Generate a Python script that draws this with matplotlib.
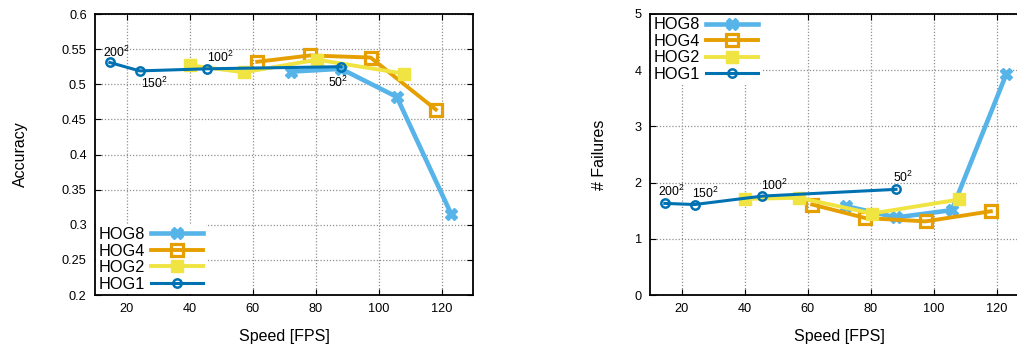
import numpy as np
import matplotlib
matplotlib.use("Agg")
import matplotlib.pyplot as plt

plt.rcParams['font.family'] = ['Liberation Sans', 'DejaVu Sans']
plt.rcParams['mathtext.fontset'] = 'custom'
plt.rcParams['mathtext.rm'] = 'Liberation Sans'
plt.rcParams['mathtext.it'] = 'Liberation Sans'

# speed [FPS] for each descriptor setting
fps_hog1 = [14.7, 24.2, 45.7, 88.1]
fps_hog2 = [40.0, 57.3, 80.5, 108.2]
fps_hog4 = [61.5, 78.3, 97.5, 118.2]
fps_hog8 = [72.3, 88.1, 105.8, 123.1]

acc_hog1 = [0.531, 0.519, 0.522, 0.525]
acc_hog2 = [0.527, 0.517, 0.535, 0.515]
acc_hog4 = [0.532, 0.541, 0.538, 0.464]
acc_hog8 = [0.518, 0.522, 0.482, 0.315]

fail_hog1 = [1.63, 1.61, 1.76, 1.88]
fail_hog2 = [1.71, 1.73, 1.45, 1.70]
fail_hog4 = [1.61, 1.37, 1.31, 1.49]
fail_hog8 = [1.58, 1.38, 1.51, 3.93]

sizes = ['200$^2$', '150$^2$', '100$^2$', '50$^2$']

c8, c4, c2, c1 = '#56B4E9', '#E69F00', '#F0E442', '#0072B2'

fig = plt.figure(figsize=(10.17, 3.49), dpi=100)
ax1 = fig.add_axes([95/1017, 1-295/349, 378/1017, 281/349])
ax2 = fig.add_axes([650/1017, 1-295/349, 378/1017, 281/349])


def draw(ax, y8, y4, y2, y1):
    ax.plot(fps_hog8, y8, color=c8, lw=3.3, marker='X', ms=9, mec=c8, label='HOG8', zorder=3)
    ax.plot(fps_hog4, y4, color=c4, lw=2.8, marker='s', ms=8.5, mfc='none', mew=2.3, label='HOG4', zorder=4)
    ax.plot(fps_hog2, y2, color=c2, lw=2.8, marker='s', ms=9, label='HOG2', zorder=5)
    ax.plot(fps_hog1, y1, color=c1, lw=2.2, marker='o', ms=6, mfc='none', mew=1.8, label='HOG1', zorder=6)
    ax.set_xlim(10, 130)
    ax.set_xticks([20, 40, 60, 80, 100, 120])
    ax.grid(True, ls=(0, (1, 1.5)), color='#909090', lw=0.9)
    ax.tick_params(direction='in', top=True, right=True, length=4, labelsize=9.2, pad=6)
    for s in ax.spines.values():
        s.set_linewidth(1.3)
    ax.set_xlabel('Speed [FPS]', fontsize=11.5, labelpad=10)


draw(ax1, acc_hog8, acc_hog4, acc_hog2, acc_hog1)
ax1.set_ylim(0.2, 0.6)
ax1.set_yticks(np.arange(0.2, 0.601, 0.05))
ax1.set_yticklabels(['0.2', '0.25', '0.3', '0.35', '0.4', '0.45', '0.5', '0.55', '0.6'])
ax1.set_ylabel('Accuracy', fontsize=11.5, labelpad=24)

draw(ax2, fail_hog8, fail_hog4, fail_hog2, fail_hog1)
ax2.set_ylim(0, 5)
ax2.set_yticks([0, 1, 2, 3, 4, 5])
ax2.set_ylabel('# Failures', fontsize=11.5, labelpad=20)

# frame sizes next to the HOG1 points
off1 = [(7, 10), (15, -12), (13, 11), (-3, -16)]
off2 = [(7, 12), (11, 11), (12, 11), (7, 12)]
for x, y, t, o in zip(fps_hog1, acc_hog1, sizes, off1):
    ax1.annotate(t, (x, y), xytext=o, textcoords='offset pixels', fontsize=8.8,
                 ha='center', va='center', zorder=7)
for x, y, t, o in zip(fps_hog1, fail_hog1, sizes, off2):
    ax2.annotate(t, (x, y), xytext=o, textcoords='offset pixels', fontsize=8.8,
                 ha='center', va='center', zorder=7)

for ax, loc in [(ax1, 'lower left'), (ax2, 'upper left')]:
    leg = ax.legend(loc=loc, fontsize=11.7, markerfirst=False, frameon=True,
                    fancybox=False, edgecolor='none', framealpha=1,
                    handlelength=3.2, handletextpad=0.4, labelspacing=0.1,
                    borderpad=0.15, borderaxespad=0.05)
    leg.set_zorder(10)

fig.savefig('out.png', dpi=100)
